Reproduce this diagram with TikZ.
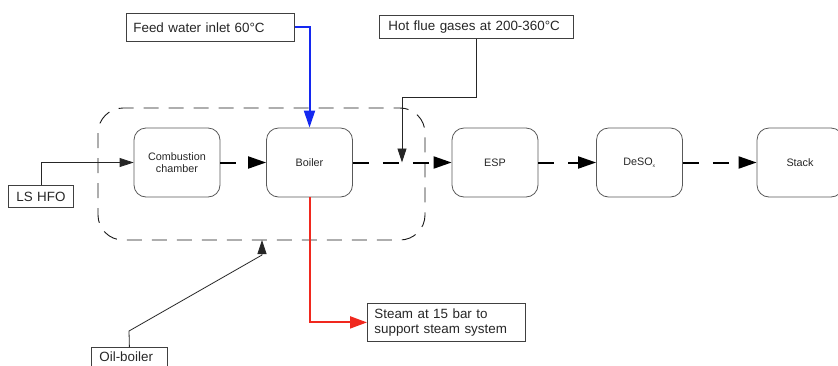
\documentclass[tikz,border=0pt]{standalone}
\usepackage{fontspec}
\setmainfont{Liberation Sans}
\usetikzlibrary{arrows.meta}
\definecolor{feedblue}{RGB}{20,40,240}
\definecolor{steamred}{RGB}{240,40,30}
\begin{document}
\begin{tikzpicture}[x=1pt,y=-1pt,
  proc/.style={draw=black!65, line width=0.8pt, rounded corners=12pt, minimum width=86pt, minimum height=69pt, inner sep=0pt, font=\fontsize{10.8}{12.5}\selectfont, align=center, text=black!85},
  lbl/.style={draw=black!75, line width=0.8pt, inner ysep=0pt, font=\fontsize{13.4}{15.5}\selectfont, align=left, text=black!85, anchor=north west},
  flow/.style={black, line width=2pt, dash pattern=on 16pt off 14pt, -{Triangle[length=18pt,width=12pt]}},
  thinarrow/.style={black!85, line width=0.8pt, -{Triangle[length=14pt,width=9pt]}},
  groupbox/.style={black!90, line width=0.9pt, dash pattern=on 15pt off 10pt, rounded corners=25pt},
]
\useasboundingbox (0,0) rectangle (838,365);
\begin{scope}
\clip (0,0) rectangle (838,365);
% group box
\draw[groupbox] (98,108) rectangle (425,240);
% label boxes
\node[lbl, inner xsep=7pt, text width=154pt, minimum height=28pt] (feed) at (126,13) {Feed water inlet 60°C};
\node[lbl, inner xsep=9pt, text width=176pt, minimum height=23pt] (hot) at (379,15) {Hot flue gases at 200-360°C};
\node[lbl, inner xsep=7pt, text width=51pt, minimum height=22pt, align=center] (hfo) at (8,185) {LS HFO};
\node[lbl, inner xsep=8pt, text width=60pt, minimum height=19pt] (oil) at (91,347) {Oil-boiler};
\node[lbl, inner xsep=7pt, text width=144pt, minimum height=38pt, font=\fontsize{13.4}{15}\selectfont] (steam) at (367,303) {Steam at 15 bar to\\support steam system};
% process boxes
\node[proc] (comb) at (177,162.5) {Combustion\\chamber};
\node[proc] (boil) at (309.5,162.5) {Boiler};
\node[proc] (esp) at (495,162.5) {ESP};
\node[proc] (deso) at (639.5,162.5) {DeSO\textsubscript{\fontsize{5}{5}\selectfont x}};
\node[proc] (stack) at (800,162.5) {Stack};
% coordinates
\coordinate (hk) at (402,97);
\coordinate (j) at (402,162.5);
\coordinate (ob1) at (129,331);
\coordinate (ob2) at (262,255);
\coordinate (ob3) at (262,240);
% connectors
\draw[thinarrow] (hfo.north) |- (comb.west);
\draw[flow] (comb.east) -- (boil.west);
\draw[flow] (boil.east) -- (esp.west);
\draw[flow] (esp.east) -- (deso.west);
\draw[flow] (deso.east) -- (stack.west);
\draw[feedblue, line width=2pt, -{Triangle[length=17pt,width=11pt]}] (feed.east) -| (boil.north);
\draw[thinarrow] (hot.south) |- (hk) -- (j);
\draw[thinarrow] (oil.north) -- (ob1) -- (ob2) -- (ob3);
\draw[steamred, line width=2pt, -{Triangle[length=17pt,width=12pt]}] (boil.south) |- (steam.west);
\end{scope}
\end{tikzpicture}
\end{document}
